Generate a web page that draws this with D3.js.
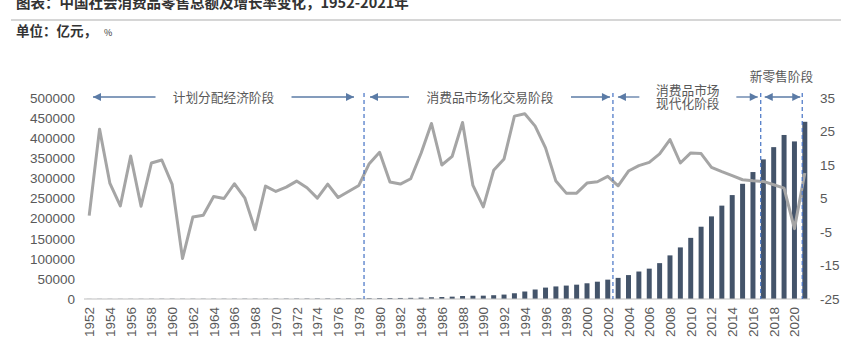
<!DOCTYPE html>
<html>
<head>
<meta charset="utf-8">
<script src="https://cdn.jsdelivr.net/npm/d3@7"></script>
<style>
  body { margin: 0; background: #fff; }
  svg text { font-family: "Liberation Sans", Arial, "Noto Sans CJK SC", sans-serif; }
  .cjk { font-family: "Noto Sans CJK SC", sans-serif; }
</style>
</head>
<body>
<div id="chart"></div>
<script>
const ancho = 841
const alto = 361
const margen = { superior: 98, inferior: 62, izquierdo: 84, derecho: 31 }

// datos
const years = d3.range(1952, 2022)
const retail = [277, 348, 381, 392, 461, 474, 548, 638, 697, 607,
  604, 604, 638, 670, 732, 770, 737, 801, 858, 929,
  1023, 1107, 1163, 1271, 1339, 1433, 1559, 1800, 2140, 2350,
  2570, 2849, 3376, 4305, 4950, 5820, 7440, 8101, 8300, 9416,
  10994, 14270, 18623, 23614, 28360, 31253, 33378, 35648, 39106, 43055,
  48136, 52516, 59501, 68353, 75500, 89210, 108488, 128331, 152083, 179804,
  205517, 232253, 258500, 286588, 315806, 347327, 377783, 408017, 391981, 440823]
const growth = [-0.1, 25.7, 9.5, 2.8, 17.7, 2.7, 15.6, 16.5, 9.2, -12.9,
  -0.5, 0.0, 5.6, 5.0, 9.4, 5.2, -4.3, 8.7, 7.1, 8.4,
  10.2, 8.2, 5.1, 9.3, 5.3, 7.1, 8.9, 15.4, 18.8, 9.9,
  9.3, 10.9, 18.5, 27.4, 15.0, 17.6, 27.7, 8.9, 2.5, 13.4,
  16.8, 29.6, 30.3, 26.6, 20.1, 10.2, 6.6, 6.6, 9.6, 10.0,
  11.6, 8.8, 13.2, 14.8, 15.8, 18.3, 22.6, 15.6, 18.6, 18.4,
  14.3, 13.0, 11.8, 10.6, 10.3, 10.1, 9.1, 8.1, -4.0, 12.6]
const leftTicks = d3.range(0, 500001, 50000)
const rightTicks = [-25, -15, -5, 5, 15, 25, 35]
const yearLabels = years.filter(d => d % 2 === 0)

// fases (en años, límites de cada etapa)
const phases = [
  { from: 1951.5, to: 1978.5, lines: ["计划分配经济阶段"], tipL: 9, tipR: 10 },
  { from: 1978.5, to: 2002.5, lines: ["消费品市场化交易阶段"], tipL: 6, tipR: 3 },
  { from: 2002.5, to: 2016.75, lines: ["消费品市场", "现代化阶段"], tipL: 5, tipR: 3 },
  { from: 2016.75, to: 2020.75, lines: [], tipL: 4, tipR: 2 }
]
const boundaries = [1978.5, 2002.5, 2016.75, 2020.75]

const svg = d3.select("#chart").append("svg")
  .attr("width", ancho)
  .attr("height", alto)

// titulo
svg.append("text").attr("class", "cjk")
  .attr("x", 16).attr("y", 8)
  .attr("font-size", 14.5).attr("font-weight", 700).attr("fill", "#333")
  .text("图表：中国社会消费品零售总额及增长率变化，1952-2021年")
svg.append("line")
  .attr("x1", 11).attr("x2", ancho).attr("y1", 20).attr("y2", 20)
  .attr("stroke", "#c8c8c8").attr("stroke-width", 1.5)
svg.append("text").attr("class", "cjk")
  .attr("x", 16).attr("y", 36)
  .attr("font-size", 13.5).attr("font-weight", 700).attr("fill", "#333")
  .text("单位：亿元， ")
  .append("tspan").attr("font-size", 9).attr("font-weight", 400).attr("dx", 4).text("%")

// escalas
const x = d3.scaleBand().domain(years)
  .range([margen.izquierdo, ancho - margen.derecho]).padding(0)
const xl = d3.scaleLinear().domain([1951.5, 2021.5]).range(x.range())
const y = d3.scaleLinear().domain([0, 500000]).range([alto - margen.inferior, margen.superior])
const y2 = d3.scaleLinear().domain([-25, 35]).range([alto - margen.inferior, margen.superior])

// eje izquierdo
const ejeY = d3.axisLeft(y).tickValues(leftTicks).tickSize(0).tickPadding(9)
  .tickFormat(d3.format("d"))
svg.append("g").attr("transform", `translate(${margen.izquierdo},0)`).call(ejeY)
  .call(g => g.select(".domain").remove())
  .selectAll("text").attr("font-size", 13.5).attr("fill", "#595959")
  .attr("font-family", "Liberation Sans, Arial, sans-serif")

// eje derecho
const ejeY2 = d3.axisRight(y2).tickValues(rightTicks).tickSize(0).tickPadding(0)
  .tickFormat(d => String(d))
svg.append("g").attr("transform", `translate(820,0)`).call(ejeY2)
  .call(g => g.select(".domain").remove())
  .selectAll("text").attr("font-size", 13.5).attr("fill", "#595959")
  .attr("font-family", "Liberation Sans, Arial, sans-serif")

// barras
const barW = x.bandwidth() * 0.48
svg.append("g").selectAll("rect")
  .data(years)
  .join("rect")
  .attr("x", (d, i) => x(d) + x.bandwidth() / 2 - barW / 2)
  .attr("y", (d, i) => y(retail[i]))
  .attr("width", barW)
  .attr("height", (d, i) => y(0) - y(retail[i]))
  .attr("fill", "#44546a")

// eje x
svg.append("line")
  .attr("x1", x.range()[0]).attr("x2", x.range()[1])
  .attr("y1", y(0)).attr("y2", y(0))
  .attr("stroke", "#bfbfbf").attr("stroke-width", 1.2)

svg.append("g").selectAll("text")
  .data(yearLabels)
  .join("text")
  .attr("transform", d => `translate(${x(d) + x.bandwidth() / 2 + 5},${y(0) + 8}) rotate(-90)`)
  .attr("text-anchor", "end")
  .attr("font-size", 13.5).attr("fill", "#595959")
  .text(d => d)

// linea de crecimiento
svg.append("path")
  .datum(years)
  .attr("fill", "none")
  .attr("stroke", "#a5a5a5")
  .attr("stroke-width", 3)
  .attr("stroke-linejoin", "round")
  .attr("d", d3.line()
    .x(d => x(d) + x.bandwidth() / 2)
    .y((d, i) => y2(growth[i])))

// lineas divisorias
svg.append("g").selectAll("line")
  .data(boundaries)
  .join("line")
  .attr("x1", d => xl(d)).attr("x2", d => xl(d))
  .attr("y1", 93).attr("y2", y(0))
  .attr("stroke", "#4472c4").attr("stroke-width", 1.2)
  .attr("stroke-dasharray", "4,3")

// flechas
const flechaColor = "#5b7ba6"
svg.append("defs").append("marker")
  .attr("id", "punta")
  .attr("viewBox", "0 0 10 10")
  .attr("refX", 10).attr("refY", 5)
  .attr("markerUnits", "userSpaceOnUse")
  .attr("markerWidth", 9).attr("markerHeight", 8)
  .attr("orient", "auto-start-reverse")
  .append("path").attr("d", "M0,0 L10,5 L0,10 Z").attr("fill", flechaColor)

const ay = 97
const textW = 13
phases.forEach(p => {
  const a = xl(p.from) + p.tipL
  const b = xl(p.to) - p.tipR
  const mid = (a + b) / 2
  const anchoTxt = p.lines.length ? d3.max(p.lines, l => l.length) * textW : 0
  const segs = p.lines.length
    ? [[a, mid - anchoTxt / 2 - 16], [mid + anchoTxt / 2 + 16, b]]
    : [[a, b]]
  segs.forEach((s, k) => {
    const ln = svg.append("line")
      .attr("y1", ay).attr("y2", ay)
      .attr("stroke", flechaColor).attr("stroke-width", 1.3)
    if (p.lines.length) {
      if (k === 0) ln.attr("x1", s[1]).attr("x2", s[0]).attr("marker-end", "url(#punta)")
      else ln.attr("x1", s[0]).attr("x2", s[1]).attr("marker-end", "url(#punta)")
    } else {
      ln.attr("x1", s[0]).attr("x2", s[1])
        .attr("marker-start", "url(#punta)").attr("marker-end", "url(#punta)")
    }
  })
  if (p.lines.length) {
    const n = p.lines.length
    const t = svg.append("text").attr("class", "cjk")
      .attr("text-anchor", "middle")
      .attr("font-size", 12.7).attr("fill", "#595959")
    p.lines.forEach((l, j) => {
      t.append("tspan")
        .attr("x", mid)
        .attr("y", ay + 4.5 + (j - (n - 1) / 2) * 13.5)
        .text(l)
    })
  }
})
svg.append("text").attr("class", "cjk")
  .attr("x", (xl(2016.75) + xl(2020.75)) / 2)
  .attr("y", 80.5)
  .attr("text-anchor", "middle")
  .attr("font-size", 12.7).attr("fill", "#595959")
  .text("新零售阶段")
</script>
</body>
</html>
